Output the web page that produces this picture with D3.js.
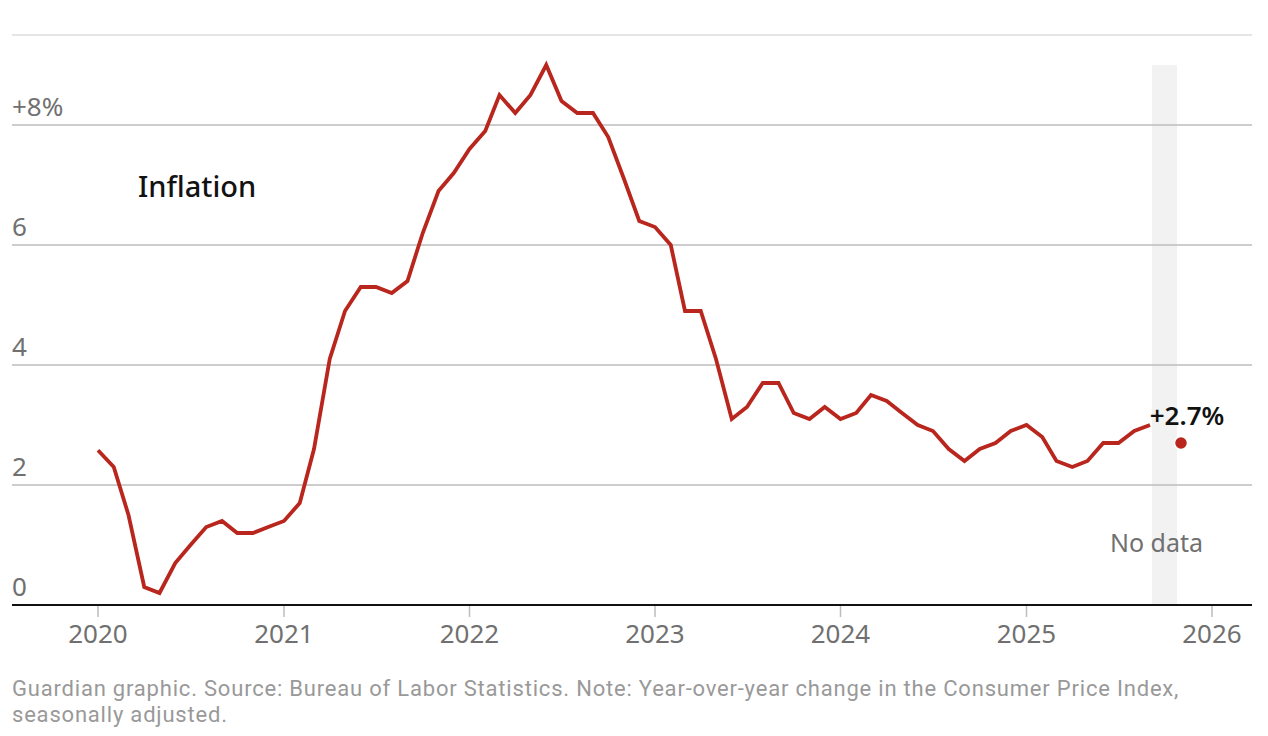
<!DOCTYPE html>
<html><head><meta charset="utf-8">
<script src="https://cdn.jsdelivr.net/npm/d3@7"></script>
<style>
body{margin:0;background:#fff;}
svg{display:block;font-family:"Noto Sans","Open Sans",sans-serif;}
</style></head>
<body><svg id="c" width="1268" height="736"></svg>
<script>
// Monthly CPI year-over-year change, Jan 2020 – Sep 2025
const startYear = 2020;
const inflation = [
  2.58, 2.3, 1.5, 0.3, 0.2, 0.7, 1.0, 1.3, 1.4, 1.2, 1.2, 1.3,   // 2020
  1.4, 1.7, 2.6, 4.1, 4.9, 5.3, 5.3, 5.2, 5.4, 6.2, 6.9, 7.2,   // 2021
  7.6, 7.9, 8.5, 8.2, 8.5, 9.0, 8.4, 8.2, 8.2, 7.8, 7.1, 6.4,   // 2022
  6.3, 6.0, 4.9, 4.9, 4.1, 3.1, 3.3, 3.7, 3.7, 3.2, 3.1, 3.3,   // 2023
  3.1, 3.2, 3.5, 3.4, 3.2, 3.0, 2.9, 2.6, 2.4, 2.6, 2.7, 2.9,   // 2024
  3.0, 2.8, 2.4, 2.3, 2.4, 2.7, 2.7, 2.9, 3.0                   // 2025
];
const latest = {date: new Date(2025, 10, 1), value: 2.7, label: "+2.7%"};
const noData = {start: new Date(2025, 8, 5), end: new Date(2025, 9, 24), top: 9.0, label: "No data"};
const yTicks = [0, 2, 4, 6, 8];
const yTop = 9.5;
const xTicks = [2020, 2021, 2022, 2023, 2024, 2025, 2026];
const title = "Inflation";
const footer = ["Guardian graphic. Source: Bureau of Labor Statistics. Note: Year-over-year change in the Consumer Price Index,",
                "seasonally adjusted."];

const data = inflation.map((v, i) => ({date: new Date(startYear, i, 1), value: v}));

const svg = d3.select("#c");
const left = 12, right = 1252;
const x = d3.scaleTime().domain([new Date(2020,0,1), new Date(2026,0,1)]).range([98, 1212]);
const y = d3.scaleLinear().domain([0, yTop]).range([605, 35]);

const gray = "#707070";
const red = "#b9261d";

// no-data band
svg.append("rect")
  .attr("x", x(noData.start)).attr("width", x(noData.end) - x(noData.start))
  .attr("y", y(noData.top)).attr("height", y(0) - y(noData.top))
  .attr("fill", "#f2f2f2");

// top line
svg.append("line").attr("x1", left).attr("x2", right)
  .attr("y1", y(yTop)).attr("y2", y(yTop)).attr("stroke", "#dcdcdc").attr("stroke-width", 1.5);

// gridlines
svg.selectAll(".grid").data(yTicks.filter(d => d > 0)).join("line")
  .attr("x1", left).attr("x2", right)
  .attr("y1", d => y(d)).attr("y2", d => y(d))
  .attr("stroke", "#bdbdbd").attr("stroke-width", 1.5);

// y labels
svg.selectAll(".ylab").data(yTicks).join("text")
  .attr("x", left).attr("y", d => y(d) - 9)
  .attr("fill", gray).attr("font-size", 26)
  .text(d => d === 8 ? "+8%" : d);

// x ticks
svg.selectAll(".xt").data(xTicks).join("line")
  .attr("x1", d => x(new Date(d,0,1))).attr("x2", d => x(new Date(d,0,1)))
  .attr("y1", y(0)).attr("y2", y(0) + 12)
  .attr("stroke", "#bdbdbd").attr("stroke-width", 1.5);
svg.selectAll(".xl").data(xTicks).join("text")
  .attr("x", d => x(new Date(d,0,1))).attr("y", 643)
  .attr("text-anchor", "middle").attr("fill", gray).attr("font-size", 26)
  .text(d => d);

// baseline
svg.append("line").attr("x1", left).attr("x2", right)
  .attr("y1", y(0)).attr("y2", y(0)).attr("stroke", "#121212").attr("stroke-width", 2);

// line
svg.append("path").datum(data)
  .attr("fill", "none").attr("stroke", red).attr("stroke-width", 3.8)
  .attr("stroke-linejoin", "miter")
  .attr("d", d3.line().x(d => x(d.date)).y(d => y(d.value)));

// latest dot
svg.append("circle").attr("cx", x(latest.date)).attr("cy", y(latest.value)).attr("r", 6.5)
  .attr("fill", red).attr("stroke", "#fff").attr("stroke-width", 1.5);
svg.append("text").attr("x", x(latest.date) + 6).attr("y", y(latest.value) - 18)
  .attr("text-anchor", "middle").attr("font-size", 26).attr("font-weight", 600).attr("fill", "#121212")
  .text(latest.label);

svg.append("text").attr("x", x(noData.start) + (x(noData.end)-x(noData.start))/2 - 8).attr("y", 552)
  .attr("text-anchor", "middle").attr("font-size", 25).attr("fill", gray).text(noData.label);

// title label
svg.append("text").attr("x", 138).attr("y", 197)
  .attr("font-size", 29).attr("font-weight", 500).attr("fill", "#121212").text(title);

// footer
svg.append("text").attr("x", left).attr("y", 696)
  .attr("font-family", "Roboto, 'Noto Sans', sans-serif")
  .attr("font-size", 22).attr("letter-spacing", 0.8).attr("fill", "#999")
  .selectAll("tspan").data(footer).join("tspan")
  .attr("x", left).attr("dy", (d, i) => i ? 26 : 0).text(d => d);
</script></body></html>
